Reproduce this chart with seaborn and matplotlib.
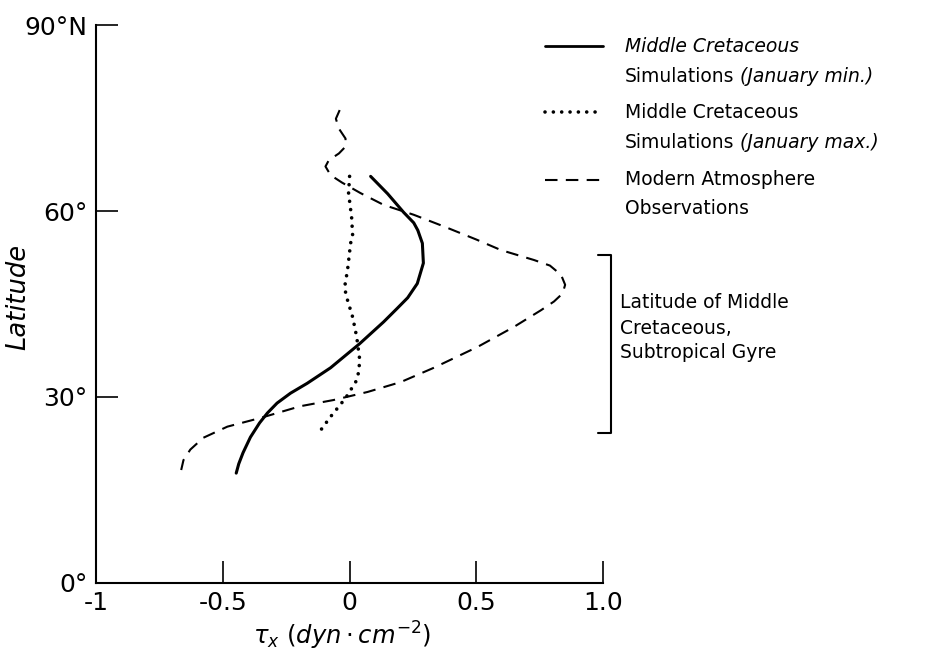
import matplotlib
matplotlib.use("Agg")
import matplotlib.pyplot as plt
from matplotlib.lines import Line2D
import seaborn as sns
import pandas as pd

sns.set_style("ticks")
plt.rcParams["font.family"] = ["DejaVu Sans"]
plt.rcParams["mathtext.fontset"] = "dejavusans"
plt.rcParams["text.color"] = "black"
plt.rcParams["axes.labelcolor"] = "black"

# Zonal wind stress profiles (tau_x in dyn/cm2, latitude in deg)
min_tau = [0.083, 0.15, 0.213, 0.253, 0.269, 0.287, 0.291, 0.267, 0.229, 0.188,
           0.134, 0.04, -0.075, -0.167, -0.233, -0.286, -0.324, -0.355, -0.391,
           -0.42, -0.437, -0.447]
min_lat = [65.6, 62.8, 59.8, 58.1, 56.9, 54.8, 51.6, 48.3, 46.0, 44.3,
           42.1, 38.6, 34.7, 32.2, 30.6, 29.0, 27.4, 25.8, 23.5,
           21.0, 19.2, 17.7]

max_tau = [0.0, -0.004, 0.008, 0.012, 0.004, -0.008, -0.02, -0.008, 0.012, 0.028,
           0.04, 0.036, 0.024, -0.016, -0.075, -0.127]
max_lat = [65.6, 62.9, 59.0, 56.1, 54.8, 50.5, 47.6, 45.6, 42.9, 39.7,
           36.0, 34.0, 32.4, 29.8, 26.8, 23.9]

obs_tau = [-0.039, -0.054, -0.042, -0.016, -0.016, -0.042, -0.082, -0.095, -0.075, -0.03,
           0.043, 0.134, 0.253, 0.379, 0.50, 0.597, 0.727, 0.79, 0.834, 0.85,
           0.84, 0.806, 0.755, 0.648, 0.506, 0.332, 0.202, 0.071, -0.063, -0.194,
           -0.352, -0.482, -0.577, -0.628, -0.655, -0.664]
obs_lat = [76.3, 74.9, 73.3, 71.7, 70.4, 69.3, 68.2, 67.2, 65.8, 64.6,
           62.9, 61.0, 59.4, 57.4, 55.4, 53.7, 52.1, 51.2, 49.7, 48.1,
           46.7, 45.4, 44.0, 41.3, 38.1, 34.7, 32.4, 30.8, 29.5, 28.5,
           26.6, 25.2, 23.4, 21.5, 19.8, 18.2]

x_ticks = [-1, -0.5, 0, 0.5, 1.0]
x_tick_labels = ["-1", "-0.5", "0", "0.5", "1.0"]
y_ticks = [0, 30, 60, 90]
y_tick_labels = ["0°", "30°", "60°", "90°N"]
gyre_lat = [24.2, 52.9]

df_min = pd.DataFrame({"tau": min_tau, "lat": min_lat})
df_max = pd.DataFrame({"tau": max_tau, "lat": max_lat})
df_obs = pd.DataFrame({"tau": obs_tau, "lat": obs_lat})

fig = plt.figure(figsize=(9.41, 6.63), dpi=100)
ax = fig.add_axes([0.102, 0.121, 0.539, 0.841])

sns.lineplot(data=df_min, x="tau", y="lat", sort=False, estimator=None,
             color="black", lw=2.2, ax=ax)
sns.lineplot(data=df_max, x="tau", y="lat", sort=False, estimator=None,
             color="black", lw=2.6, linestyle=(0, (0.01, 2.3)),
             dash_capstyle="round", ax=ax)
sns.lineplot(data=df_obs, x="tau", y="lat", sort=False, estimator=None,
             color="black", lw=1.5, linestyle=(0, (6, 4)), ax=ax)

ax.set_xlim(-1, 1.0)
ax.set_ylim(0, 90)
ax.set_xticks(x_ticks)
ax.set_xticklabels(x_tick_labels)
ax.set_yticks(y_ticks)
ax.set_yticklabels(y_tick_labels)
ax.tick_params(direction="in", length=16, width=1.2, pad=6, labelsize=18,
               colors="black")
for side in ["top", "right"]:
    ax.spines[side].set_visible(False)
for side in ["left", "bottom"]:
    ax.spines[side].set_linewidth(1.5)
    ax.spines[side].set_color("black")

ax.set_xlabel(r"$\tau_x\ (dyn\cdot cm^{-2})$", fontsize=17.5)
ax.xaxis.set_label_coords(0.485, -0.066)
ax.set_ylabel("Latitude", fontsize=18.5, style="italic")
ax.yaxis.set_label_coords(-0.154, 0.513)
ax.yaxis.label.set_verticalalignment("center")

# legend drawn by hand (two-line labels with mixed styles)
def px(x, y):
    return x / 941, 1 - y / 663

legend_rows = [
    (46, dict(ls="-", lw=2.0)),
    (112, dict(ls=(0, (0.01, 2.3)), lw=2.6, dash_capstyle="round")),
    (180, dict(ls=(0, (6, 4)), lw=1.5)),
]
for y, kw in legend_rows:
    (x0, fy), (x1, _) = px(545, y), px(603, y)
    fig.add_artist(Line2D([x0, x1], [fy, fy], color="black", transform=fig.transFigure, **kw))

tsize = 13.5
tx = 625 / 941
t = fig.text(tx, px(0, 46)[1], "Middle Cretaceous", fontsize=tsize, style="italic", va="center")
t = fig.text(tx, px(0, 76)[1], "Simulations", fontsize=tsize, va="center")
ax.annotate(" (January min.)", xy=(1, 0.5), xycoords=t, va="center", fontsize=tsize, style="italic")
fig.text(tx, px(0, 112)[1], "Middle Cretaceous", fontsize=tsize, va="center")
t = fig.text(tx, px(0, 142)[1], "Simulations", fontsize=tsize, va="center")
ax.annotate(" (January max.)", xy=(1, 0.5), xycoords=t, va="center", fontsize=tsize, style="italic")
fig.text(tx, px(0, 180)[1], "Modern Atmosphere", fontsize=tsize, va="center")
fig.text(tx, px(0, 208)[1], "Observations", fontsize=tsize, va="center")

# bracket marking the subtropical gyre latitudes
ax.plot([0.98, 1.03, 1.03, 0.98], [gyre_lat[1], gyre_lat[1], gyre_lat[0], gyre_lat[0]],
        color="black", lw=1.5, clip_on=False)
fig.text(620 / 941, px(0, 328)[1], "Latitude of Middle\nCretaceous,\nSubtropical Gyre",
         fontsize=tsize, va="center", linespacing=1.4)

fig.savefig("out.png", dpi=100)
